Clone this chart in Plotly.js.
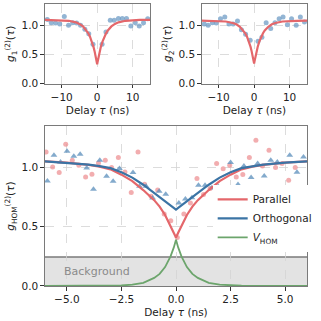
<!DOCTYPE html>
<html>
<head>
<meta charset="utf-8">
<script src="https://cdn.plot.ly/plotly-3.0.1.min.js"></script>
<style>
  html, body { margin: 0; padding: 0; background: #fff; }
  #chart { width: 321px; height: 321px; }
</style>
</head>
<body>
<div id="chart"></div>
<script>
// g2 of each single source (top panels)
const g1Delay = [-14.05, -12.95, -11.74, -10.55, -9.26, -8.07, -6.89, -5.79, -4.68, -3.47, -2.37, -1.18,
                 1.38, 2.48, 3.69, 4.79, 5.98, 7.08, 8.26, 9.48, 10.74, 11.85, 13.06, 14.24];
const g1Value = [1.097, 1.040, 1.034, 1.017, 1.148, 0.995, 1.040, 1.034, 0.995, 0.927, 0.850, 0.670,
                 0.670, 0.880, 1.080, 1.080, 1.114, 1.114, 1.114, 0.983, 1.040, 0.983, 1.040, 1.107];

const g2Delay = [-14.05, -12.95, -11.76, -10.66, -9.48, -8.26, -7.08, -5.90, -4.68, -3.58, -2.40, -1.10,
                 1.10, 2.20, 3.39, 4.68, 5.87, 7.05, 8.15, 9.37, 10.55, 11.85, 13.03, 14.20];
const g2Value = [1.017, 0.995, 1.040, 1.034, 1.107, 1.137, 1.017, 1.017, 1.068, 0.920, 0.841, 0.739,
                 0.722, 0.790, 1.040, 0.939, 1.040, 1.107, 1.137, 1.005, 1.107, 0.995, 1.137, 1.051];

// fitted curves
const fitDelay = [-15, -12, -10, -8, -6, -5, -4, -3, -2.5, -2, -1.5, -1, -0.75, -0.5, -0.25, -0.1, 0,
                  0.1, 0.25, 0.5, 0.75, 1, 1.5, 2, 2.5, 3, 4, 5, 6, 8, 10, 12, 15];
const fit1 = [1.089, 1.087, 1.083, 1.073, 1.046, 1.020, 0.977, 0.908, 0.859, 0.797, 0.718, 0.618, 0.558, 0.491, 0.415, 0.365, 0.330,
              0.365, 0.415, 0.491, 0.558, 0.618, 0.718, 0.797, 0.859, 0.908, 0.977, 1.020, 1.046, 1.073, 1.083, 1.087, 1.089];
const fit2 = [1.075, 1.073, 1.070, 1.061, 1.036, 1.013, 0.970, 0.907, 0.860, 0.801, 0.724, 0.626, 0.567, 0.500, 0.425, 0.375, 0.340,
              0.375, 0.425, 0.500, 0.567, 0.626, 0.724, 0.801, 0.860, 0.907, 0.970, 1.013, 1.036, 1.061, 1.070, 1.073, 1.075];

// HOM measurement (bottom panel)
const parDelay = [-5.95, -5.65, -5.35, -5.05, -4.75, -4.45, -4.14, -3.85, -3.55, -3.24, -2.95, -2.64, -2.34, -2.05,
                  -1.74, -1.44, -1.14, -0.84, -0.54, -0.24, 0.06, 0.36, 0.66, 0.96, 1.26, 1.56, 1.86, 2.16,
                  2.46, 2.76, 3.06, 3.36, 3.66, 3.96, 4.26, 4.56, 4.86, 5.16, 5.46, 5.77];
const parValue = [1.131, 1.005, 0.958, 1.196, 1.061, 1.019, 0.921, 0.944, 1.039, 1.061, 1.000, 1.084, 0.963, 0.789,
                  1.131, 0.859, 0.758, 0.810, 0.607, 0.550, 0.410, 0.607, 0.700, 0.907, 0.772, 0.823, 1.034, 0.990,
                  1.020, 0.921, 0.941, 1.084, 1.230, 1.013, 1.146, 1.000, 1.034, 0.893, 1.000, 0.831];

const ortDelay = [-5.89, -5.59, -5.29, -4.99, -4.68, -4.39, -4.09, -3.78, -3.49, -3.18, -2.88, -2.59,
                  -1.97, -1.67, -1.37, -1.07, -0.77, -0.47, 0.13, 0.43, 0.73, 1.03, 1.33, 1.63, 1.93,
                  2.50, 2.84, 3.11, 3.44, 3.74, 4.04, 4.34, 4.64, 5.21, 5.54, 5.84];
const ortValue = [0.887, 1.104, 1.048, 1.137, 1.095, 1.112, 0.997, 0.817, 1.061, 0.927, 0.885, 0.992,
                  0.958, 0.842, 0.842, 0.744, 0.800, 0.775, 0.700, 0.735, 0.745, 0.851, 0.851, 0.828, 0.840,
                  1.042, 0.857, 1.013, 0.916, 1.034, 0.929, 1.061, 1.047, 1.104, 0.960, 1.089];

const homDelay = [-6, -5, -4, -3.5, -3, -2.5, -2, -1.5, -1, -0.75, -0.5, -0.25, -0.1, 0,
                  0.1, 0.25, 0.5, 0.75, 1, 1.5, 2, 2.5, 3, 3.5, 4, 5, 6];
const parFit = [1.053, 1.042, 1.023, 1.008, 0.985, 0.940, 0.885, 0.810, 0.725, 0.670, 0.600, 0.510, 0.450, 0.410,
                0.450, 0.510, 0.600, 0.670, 0.725, 0.810, 0.885, 0.940, 0.985, 1.008, 1.023, 1.042, 1.053];
const ortFit = [1.053, 1.042, 1.025, 1.012, 0.995, 0.960, 0.915, 0.855, 0.787, 0.750, 0.715, 0.680, 0.659, 0.645,
                0.659, 0.680, 0.715, 0.750, 0.787, 0.855, 0.915, 0.960, 0.995, 1.012, 1.025, 1.042, 1.053];
const vHom = [0.000, 0.000, 0.0003, 0.0008, 0.002, 0.0045, 0.011, 0.027, 0.068, 0.102, 0.160, 0.250, 0.326, 0.390,
              0.326, 0.250, 0.160, 0.102, 0.068, 0.027, 0.011, 0.0045, 0.002, 0.0008, 0.0003, 0.000, 0.000];

const backgroundLevel = 0.245;

const RED = '#e4676b';
const BLUE = '#3b74a5';
const GREEN = '#6ca56c';
const FONT = 'DejaVu Sans, sans-serif';

function axisStyle(extra) {
    const base = {
        showline: true,
        mirror: true,
        linecolor: '#7a7a7a',
        linewidth: 1.2,
        ticks: 'outside',
        ticklen: 3.5,
        tickwidth: 1,
        tickcolor: '#333',
        showgrid: true,
        gridcolor: '#d3d3d3',
        gridwidth: 0.8,
        griddash: 'dash',
        zeroline: false,
        tickfont: { family: FONT, size: 10.5, color: '#222' }
    };
    return Object.assign(base, extra);
}

function titleOf(text) {
    return { text: text, font: { family: FONT, size: 10.5, color: '#222' }, standoff: 4 };
}

function buildTraces() {
    return [
        // top left
        { x: g1Delay, y: g1Value, xaxis: 'x', yaxis: 'y', type: 'scatter', mode: 'markers',
          marker: { color: '#6f9cc6', size: 5, opacity: 0.75 }, showlegend: false },
        { x: fitDelay, y: fit1, xaxis: 'x', yaxis: 'y', type: 'scatter', mode: 'lines',
          line: { color: RED, width: 2.2 }, showlegend: false },
        // top right
        { x: g2Delay, y: g2Value, xaxis: 'x2', yaxis: 'y2', type: 'scatter', mode: 'markers',
          marker: { color: '#6f9cc6', size: 5, opacity: 0.75 }, showlegend: false },
        { x: fitDelay, y: fit2, xaxis: 'x2', yaxis: 'y2', type: 'scatter', mode: 'lines',
          line: { color: RED, width: 2.2 }, showlegend: false },
        // bottom
        { x: parDelay, y: parValue, xaxis: 'x3', yaxis: 'y3', type: 'scatter', mode: 'markers',
          marker: { color: '#ec8a8d', size: 5, opacity: 0.7 }, showlegend: false },
        { x: ortDelay, y: ortValue, xaxis: 'x3', yaxis: 'y3', type: 'scatter', mode: 'markers',
          marker: { color: '#5a8dbb', size: 6, symbol: 'triangle-up', opacity: 0.75 }, showlegend: false },
        { x: homDelay, y: parFit, xaxis: 'x3', yaxis: 'y3', type: 'scatter', mode: 'lines',
          line: { color: RED, width: 2.2 }, name: 'Parallel' },
        { x: homDelay, y: ortFit, xaxis: 'x3', yaxis: 'y3', type: 'scatter', mode: 'lines',
          line: { color: BLUE, width: 2.2 }, name: 'Orthogonal' },
        { x: homDelay, y: vHom, xaxis: 'x3', yaxis: 'y3', type: 'scatter', mode: 'lines',
          line: { color: GREEN, width: 1.8 }, name: '<i>V</i><sub>HOM</sub>' }
    ];
}

function buildLayout() {
    return {
        width: 321,
        height: 321,
        margin: { l: 45, r: 9, t: 4, b: 35 },
        paper_bgcolor: '#fff',
        plot_bgcolor: '#fff',
        font: { family: FONT, size: 10.5, color: '#222' },
        xaxis: axisStyle({ domain: [0, 0.401], range: [-14.7, 14.9], tickvals: [-10, 0, 10], anchor: 'y',
                           title: titleOf('Delay <i>τ</i> (ns)') }),
        yaxis: axisStyle({ domain: [0.718, 1], range: [0, 1.36], tickvals: [0, 0.5, 1], tickformat: '.1f', anchor: 'x',
                           title: titleOf('<i>g</i><sub>1</sub><sup>(2)</sup>(<i>τ</i>)') }),
        xaxis2: axisStyle({ domain: [0.599, 1], range: [-14.7, 14.9], tickvals: [-10, 0, 10], anchor: 'y2',
                            title: titleOf('Delay <i>τ</i> (ns)') }),
        yaxis2: axisStyle({ domain: [0.718, 1], range: [0, 1.36], tickvals: [0, 0.5, 1], tickformat: '.1f', anchor: 'x2',
                            title: titleOf('<i>g</i><sub>2</sub><sup>(2)</sup>(<i>τ</i>)') }),
        xaxis3: axisStyle({ domain: [0, 1], range: [-6, 6], tickvals: [-5, -2.5, 0, 2.5, 5], tickformat: '.1f', anchor: 'y3',
                            title: titleOf('Delay <i>τ</i> (ns)') }),
        yaxis3: axisStyle({ domain: [0, 0.567], range: [0, 1.35], tickvals: [0, 0.5, 1], tickformat: '.1f', anchor: 'x3',
                            title: titleOf('<i>g</i><sub>HOM</sub><sup>(2)</sup>(<i>τ</i>)') }),
        shapes: [
            { type: 'rect', xref: 'x3 domain', yref: 'y3', x0: 0, x1: 1, y0: 0, y1: backgroundLevel,
              fillcolor: '#e3e3e3', line: { width: 0 }, layer: 'below' },
            { type: 'line', xref: 'x3 domain', yref: 'y3', x0: 0, x1: 1, y0: backgroundLevel, y1: backgroundLevel,
              line: { color: '#7a7a7a', width: 1.5 }, layer: 'below' }
        ],
        annotations: [
            { text: 'Background', xref: 'x3', yref: 'y3', x: -3.6, y: backgroundLevel / 2, showarrow: false,
              font: { family: FONT, size: 11, color: '#8a8a8a' } }
        ],
        showlegend: true,
        legend: {
            x: 0.64, xanchor: 'left', y: 0.24, yanchor: 'middle',
            bgcolor: '#fff', borderwidth: 0,
            font: { family: FONT, size: 10.5, color: '#222' },
            tracegroupgap: 0
        }
    };
}

Plotly.newPlot('chart', buildTraces(), buildLayout(), { staticPlot: true, displayModeBar: false });
</script>
</body>
</html>
